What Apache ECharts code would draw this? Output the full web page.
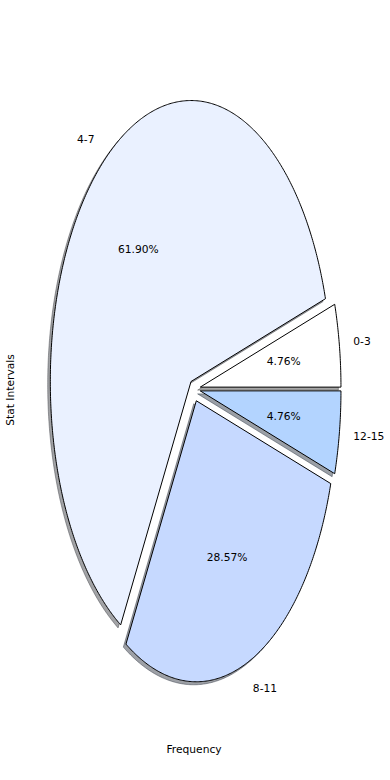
<!DOCTYPE html>
<html><head><meta charset="utf-8">
<script src="https://cdn.jsdelivr.net/npm/echarts@6/dist/echarts.min.js"></script>
<style>html,body{margin:0;padding:0;background:#fff}#c{width:390px;height:780px}</style>
</head><body><div id="c"></div>
<script>
const categories = ['0-3', '4-7', '8-11', '12-15'];
const frequencies = [1, 13, 6, 1];
const explode = [0.045, 0.034, 0.045, 0.045];
const sliceColors = ['#ffffff', '#eaf1ff', '#c6d9ff', '#b3d4ff'];
const xAxisTitle = 'Frequency';
const yAxisTitle = 'Stat Intervals';

const CX = 194, CY = 389, RX = 140.7, RY = 281;
const SHADOW_DX = -2.6, SHADOW_DY = 3.0;
const FONT = 'DejaVu Sans';
const FS = 10.7;
const total = frequencies.reduce((a, b) => a + b, 0);

function sliceGeom(i) {
  let start = 0;
  for (let k = 0; k < i; k++) start += frequencies[k] / total * 360;
  const end = start + frequencies[i] / total * 360;
  return { start, end, mid: (start + end) / 2 };
}
function offsetOf(i) {
  const g = sliceGeom(i), tm = g.mid * Math.PI / 180;
  return [explode[i] * RX * Math.cos(tm), -explode[i] * RY * Math.sin(tm)];
}
function wedgePoints(i, dx, dy) {
  const g = sliceGeom(i);
  const o = offsetOf(i);
  const ox = o[0] + dx, oy = o[1] + dy;
  const pts = [[CX + ox, CY + oy]];
  const n = Math.max(8, Math.ceil((g.end - g.start) * 2));
  for (let k = 0; k <= n; k++) {
    const t = (g.start + (g.end - g.start) * k / n) * Math.PI / 180;
    pts.push([CX + ox + RX * Math.cos(t), CY + oy - RY * Math.sin(t)]);
  }
  return pts;
}
function shadowColor(hex) {
  const r = parseInt(hex.slice(1, 3), 16), g = parseInt(hex.slice(3, 5), 16), b = parseInt(hex.slice(5, 7), 16);
  return 'rgba(' + Math.round(r * 0.3) + ',' + Math.round(g * 0.3) + ',' + Math.round(b * 0.3) + ',0.5)';
}

const chart = echarts.init(document.getElementById('c'), null, { renderer: 'svg' });
chart.setOption({
  animation: false,
  backgroundColor: '#ffffff',
  series: [
    {
      type: 'custom', coordinateSystem: 'none', silent: true, z: 1,
      data: frequencies,
      renderItem: function (params, api) {
        const i = params.dataIndex;
        return {
          type: 'polygon',
          shape: { points: wedgePoints(i, SHADOW_DX, SHADOW_DY) },
          style: { fill: shadowColor(sliceColors[i]), stroke: shadowColor(sliceColors[i]), lineWidth: 1 }
        };
      }
    },
    {
      type: 'custom', coordinateSystem: 'none', silent: true, z: 2,
      data: frequencies,
      renderItem: function (params, api) {
        const i = params.dataIndex;
        return {
          type: 'polygon',
          shape: { points: wedgePoints(i, 0, 0) },
          style: { fill: sliceColors[i], stroke: '#000000', lineWidth: 1, lineJoin: 'miter' }
        };
      }
    },
    {
      type: 'custom', coordinateSystem: 'none', silent: true, z: 3,
      data: frequencies,
      renderItem: function (params, api) {
        const i = params.dataIndex;
        const v = api.value(0);
        const g = sliceGeom(i), tm = g.mid * Math.PI / 180;
        const o = offsetOf(i);
        const lx = CX + o[0] + 1.1 * RX * Math.cos(tm);
        const ly = CY + o[1] - 1.1 * RY * Math.sin(tm);
        const px = CX + o[0] + 0.6 * RX * Math.cos(tm);
        const py = CY + o[1] - 0.6 * RY * Math.sin(tm);
        return {
          type: 'group',
          children: [
            { type: 'text', style: { text: categories[i], x: lx, y: ly, align: lx > CX ? 'left' : 'right', verticalAlign: 'middle', fontFamily: FONT, fontSize: FS, fill: '#000' } },
            { type: 'text', style: { text: (v / total * 100).toFixed(2) + '%', x: px, y: py, align: 'center', verticalAlign: 'middle', fontFamily: FONT, fontSize: FS, fill: '#000' } }
          ]
        };
      }
    }
  ],
  graphic: [
    { type: 'text', x: CX, y: 749, style: { text: xAxisTitle, align: 'center', verticalAlign: 'middle', fontFamily: FONT, fontSize: FS, fill: '#000' } },
    { type: 'text', x: 10.5, y: 390, rotation: Math.PI / 2, style: { text: yAxisTitle, align: 'center', verticalAlign: 'middle', fontFamily: FONT, fontSize: FS, fill: '#000' } }
  ]
});
</script>
</body></html>
